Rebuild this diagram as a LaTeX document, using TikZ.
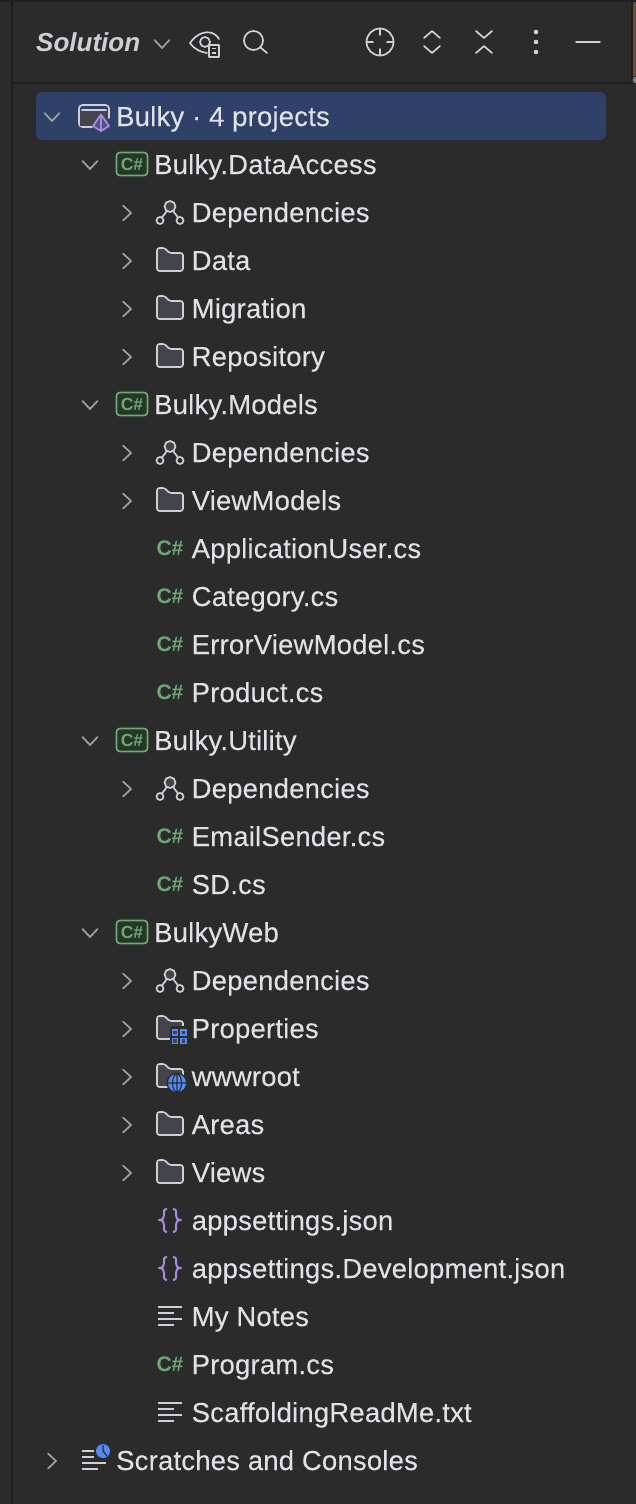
\documentclass[tikz,border=0pt]{standalone}
\usepackage{fontspec}
\setmainfont[LetterSpace=0.7,FakeBold=0.12]{Liberation Sans}
\newfontfamily\titlefont[BoldItalicFont={Liberation Sans Bold Italic}]{Liberation Sans}
\definecolor{panelbg}{HTML}{2B2B2B}
\definecolor{edgedark}{HTML}{1E1F22}
\definecolor{selblue}{HTML}{2F4069}
\definecolor{labeltxt}{HTML}{DFE1E5}
\definecolor{chevgray}{HTML}{9DA0A8}
\definecolor{icongray}{HTML}{CED0D6}
\definecolor{iconfill}{HTML}{43454A}
\definecolor{csgreen}{HTML}{6AAB73}
\definecolor{csfill}{HTML}{253627}
\definecolor{jsonpurple}{HTML}{A88BE0}
\definecolor{accentblue}{HTML}{548AF7}
\tikzset{
  rowtxt/.style={anchor=base west, inner sep=0pt, text=labeltxt, font=\fontsize{27.5}{30}\selectfont},
  titletxt/.style={anchor=base west, inner sep=0pt, text=icongray, font=\titlefont\fontsize{26}{30}\selectfont\bfseries\itshape},
  csmark/.style={inner sep=0pt, text=csgreen, font=\titlefont\fontsize{21}{24}\selectfont\bfseries},
  chevline/.style={draw=chevgray, line width=1.7pt, line cap=round, line join=miter},
  iconline/.style={draw=icongray, line width=1.7pt, line cap=round, line join=round},
  pics/chevright/.style={code={\draw[chevline] (-4,-7.5) -- (4,0) -- (-4,7.5);}},
  pics/chevdown/.style={code={\draw[chevline] (-7.5,-4) -- (0,4) -- (7.5,-4);}},
  pics/folder/.style={code={
    \draw[iconline, fill=iconfill, rounded corners=2.5pt] (-13,10) -- (-13,-13) -- (-5,-13) -- (-1,-8) -- (13,-8) -- (13,10) -- cycle;}},
  pics/depicon/.style={code={
    \draw[iconline] (0,-6) -- (-10,7) (0,-6) -- (10,7);
    \draw[iconline, fill=iconfill] (0,-6.5) circle (5.5);
    \draw[iconline, fill=panelbg] (-10,7.5) circle (3.5);
    \draw[iconline, fill=panelbg] (10,7.5) circle (3.5);}},
  pics/csfile/.style={code={\node[csmark] (-cs) at (0,-1) {C\#};}},
  pics/csbadge/.style={code={
    \draw[draw=csgreen, fill=csfill, line width=1.7pt, rounded corners=3.5pt] (-15.5,-12.5) rectangle (15.5,10.5);
    \node[csmark, font=\titlefont\fontsize{17.5}{22}\selectfont\bfseries] (-cs) at (0,-1) {C\#};}},
  pics/jsonicon/.style={code={
    \draw[draw=jsonpurple, line width=2pt, line join=round] (-3,-12) .. controls (-7,-12) and (-6,-9) .. (-6,-6) .. controls (-6,-3) and (-7,-1) .. (-11,-1) .. controls (-7,-1) and (-6,1) .. (-6,4) .. controls (-6,7) and (-7,11) .. (-3,11);
    \draw[draw=jsonpurple, line width=2pt, line join=round] (3,-12) .. controls (7,-12) and (6,-9) .. (6,-6) .. controls (6,-3) and (7,-1) .. (11,-1) .. controls (7,-1) and (6,1) .. (6,4) .. controls (6,7) and (7,11) .. (3,11);}},
  pics/txticon/.style={code={
    \draw[draw=icongray, line width=1.6pt] (-12,-10) -- (12,-10) (-12,-4) -- (4,-4) (-12,2) -- (12,2) (-12,8) -- (4,8);}},
}
\begin{document}
\begin{tikzpicture}[x=1pt, y=-1pt]
\useasboundingbox (0,0) rectangle (636,1504);
\fill[panelbg] (0,0) rectangle (636,1504);
% frame of the panel
\fill[edgedark] (0,0) rectangle (636,2);
\fill[edgedark] (11,0) rectangle (13,1504);
\fill[edgedark] (13,82) rectangle (636,84);
\fill[edgedark] (631,0) rectangle (632.5,84);
\fill[black!20!brown!60!panelbg] (632.5,2) rectangle (636,76);
\fill[chevgray!70!panelbg] (636,80) circle (3.5);
% header
\node[titletxt] (solutionlabel) at (36,52) {Solution};
\pic at (162,44) {chevdown};
% eye with small file
\draw[iconline] (190,43) .. controls (197,33) and (206,31) .. (212,33) .. controls (215,34) and (218,37) .. (219,39);
\draw[iconline] (190,43) .. controls (195,50) and (201,52) .. (207,53);
\draw[iconline] (205,42) circle (5);
\draw[iconline, fill=panelbg] (209,45) rectangle (219,57);
\draw[draw=icongray, line width=1.5pt] (212,48.5) -- (216,48.5) (212,53) -- (216,53);
% search
\draw[iconline] (253.5,40.5) circle (9.5);
\draw[iconline] (260.5,47.5) -- (267,53);
% target
\draw[iconline] (380,42) circle (13.5);
\draw[iconline] (380,28.5) -- (380,35) (380,49) -- (380,55.5) (366.5,42) -- (373,42) (387,42) -- (393.5,42);
% expand, collapse
\draw[iconline] (424,38) -- (432,31) -- (440,38) (424,46) -- (432,53) -- (440,46);
\draw[iconline] (476,31) -- (484,38) -- (492,31) (476,53) -- (484,46) -- (492,53);
% menu, hide
\fill[icongray] (536,32) circle (2.3) (536,42) circle (2.3) (536,52) circle (2.3);
\draw[iconline] (576,42) -- (600,42);
% root row
\fill[selblue, rounded corners=6pt] (36,92) rectangle (606,140);
\pic at (52,117) {chevdown};
\draw[iconline, rounded corners=3.5pt] (92,127) -- (79,127) -- (79,105) -- (109,105) -- (109,118);
\fill[iconfill] (80,110) rectangle (108,126);
\draw[iconline] (82,110) -- (106,110);
\draw[draw=jsonpurple, line width=1.8pt, line join=round, fill=jsonpurple!25!selblue] (101,114.5) -- (109,126) -- (101,131) -- (93,126) -- cycle;
\draw[draw=jsonpurple, line width=1.5pt] (101,114.5) -- (101,131);
\node[rowtxt] (rootlabel) at (116,126) {Bulky · 4 projects};
% project rows
\foreach \yy/\nm/\txt in {165/dataaccess/Bulky.DataAccess, 405/models/Bulky.Models, 741/utility/Bulky.Utility, 933/bulkyweb/BulkyWeb} {
  \pic at (90,\yy) {chevdown};
  \pic at (132,\yy) {csbadge};
  \node[rowtxt] (\nm) at (154,\yy+9) {\txt};
}
% dependencies rows
\foreach \yy/\nm in {213/depa, 453/depb, 789/depc, 981/depd} {
  \pic at (127,\yy) {chevright};
  \pic at (170,\yy) {depicon};
  \node[rowtxt] (\nm) at (191.5,\yy+9) {Dependencies};
}
% folder rows
\foreach \yy/\nm/\txt in {261/data/Data, 309/migration/Migration, 357/repository/Repository, 501/viewmodels/ViewModels, 1029/properties/Properties, 1077/wwwroot/wwwroot, 1125/areas/Areas, 1173/views/Views} {
  \pic at (127,\yy) {chevright};
  \pic at (170,\yy) {folder};
  \node[rowtxt] (\nm) at (191.5,\yy+9) {\txt};
}
% folder badges
\fill[panelbg, rounded corners=3pt] (170,1026) rectangle (190,1046);
\draw[draw=accentblue, line width=1.5pt, fill=iconfill] (172.5,1030) rectangle (177.5,1035) (181,1030) rectangle (186,1035) (172.5,1038.5) rectangle (177.5,1043.5) (181,1038.5) rectangle (186,1043.5);
\fill[panelbg] (177,1083) circle (10.5);
\fill[accentblue] (177,1083) circle (9);
\draw[draw=panelbg, line width=1.1pt] (177,1083) circle (4.5 and 9) (168,1083) -- (186,1083) (177,1074) -- (177,1092);
% c sharp files
\foreach \yy/\nm/\txt in {549/appuser/ApplicationUser.cs, 597/category/Category.cs, 645/errorvm/ErrorViewModel.cs, 693/product/Product.cs, 837/emailsender/EmailSender.cs, 885/sd/SD.cs, 1365/program/Program.cs} {
  \pic at (170,\yy) {csfile};
  \node[rowtxt] (\nm) at (191.5,\yy+9) {\txt};
}
% json and text files
\foreach \yy/\nm/\txt in {1221/appsettings/appsettings.json, 1269/appsettingsdev/appsettings.Development.json} {
  \pic at (170,\yy) {jsonicon};
  \node[rowtxt] (\nm) at (191.5,\yy+9) {\txt};
}
\foreach \yy/\nm/\txt in {1317/mynotes/My Notes, 1413/readme/ScaffoldingReadMe.txt} {
  \pic at (170,\yy) {txticon};
  \node[rowtxt] (\nm) at (191.5,\yy+9) {\txt};
}
% scratches
\pic at (52,1461) {chevright};
\draw[draw=icongray, line width=1.6pt] (82,1451) -- (94,1451) (82,1457) -- (94,1457) (82,1463) -- (106,1463) (82,1469) -- (98,1469);
\fill[panelbg] (103,1451) circle (8.5);
\fill[accentblue] (103,1451) circle (7);
\draw[draw=panelbg, line width=1.2pt] (103,1445) -- (103,1451) -- (107,1456);
\node[rowtxt] (scratches) at (116,1470) {Scratches and Consoles};
\end{tikzpicture}
\end{document}
